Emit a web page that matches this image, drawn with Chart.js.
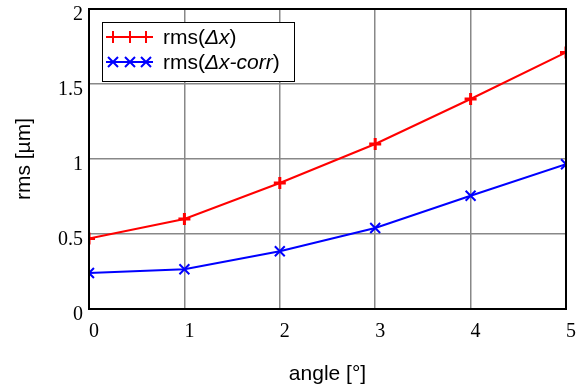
<!DOCTYPE html>
<html>
<head>
<meta charset="utf-8">
<script src="https://cdn.jsdelivr.net/npm/chart.js@4.4.1/dist/chart.umd.min.js"></script>
<style>
  html, body { margin: 0; padding: 0; background: #fff; }
  #wrap { width: 577px; height: 387px; }
</style>
</head>
<body>
<div id="wrap"><canvas id="c"></canvas></div>
<script>
// values
const angles = [0, 1, 2, 3, 4, 5];
const rmsDx = [0.47, 0.60, 0.84, 1.10, 1.40, 1.71];
const rmsDxCorr = [0.24, 0.265, 0.385, 0.54, 0.755, 0.965];
const yTicks = [0, 0.5, 1, 1.5, 2];
// legend text pieces: [text, italic]
const labelDx = [["rms(", false], ["Δx", true], [")", false]];
const labelCorr = [["rms(", false], ["Δx-corr", true], [")", false]];

const RED = "#ff0000";
const BLUE = "#0000ff";
const SERIF = "'Liberation Serif', 'Times New Roman', serif";
const SANS = "'Liberation Sans', Arial, sans-serif";

const pts = (ys) => angles.map((a, i) => ({ x: a, y: ys[i] }));

// frame + legend box, drawn on top
const frameAndLegend = {
  id: "frameAndLegend",
  afterDraw(chart) {
    const { ctx, chartArea: a } = chart;
    ctx.save();
    ctx.strokeStyle = "#000";
    ctx.lineWidth = 2;
    ctx.strokeRect(a.left, a.top, a.right - a.left, a.bottom - a.top);

    // legend
    const bx = 102, by = 22, bw = 192, bh = 59;
    ctx.fillStyle = "#fff";
    ctx.fillRect(bx, by, bw, bh);
    ctx.lineWidth = 1;
    ctx.strokeRect(bx + 0.5, by + 0.5, bw, bh);

    const rows = [
      { y: 37, color: RED, mark: "plus", label: labelDx },
      { y: 62, color: BLUE, mark: "cross", label: labelCorr },
    ];
    rows.forEach((r) => {
      ctx.strokeStyle = r.color;
      ctx.lineWidth = 2;
      ctx.beginPath();
      ctx.moveTo(106, r.y);
      ctx.lineTo(153, r.y);
      ctx.stroke();
      [113, 130, 146].forEach((mx) => {
        ctx.beginPath();
        if (r.mark === "plus") {
          ctx.moveTo(mx - 6, r.y); ctx.lineTo(mx + 6, r.y);
          ctx.moveTo(mx, r.y - 6); ctx.lineTo(mx, r.y + 6);
        } else {
          ctx.moveTo(mx - 5, r.y - 5); ctx.lineTo(mx + 5, r.y + 5);
          ctx.moveTo(mx - 5, r.y + 5); ctx.lineTo(mx + 5, r.y - 5);
        }
        ctx.stroke();
      });
      let x = 163;
      ctx.fillStyle = "#000";
      ctx.textBaseline = "middle";
      r.label.forEach(([t, it]) => {
        ctx.font = (it ? "italic " : "") + "21px " + SANS;
        ctx.fillText(t, x, r.y + 1);
        x += ctx.measureText(t).width;
      });
    });
    ctx.restore();
  },
};

new Chart(document.getElementById("c"), {
  type: "line",
  data: {
    datasets: [
      {
        label: "rms(Δx)", data: pts(rmsDx),
        borderColor: RED, backgroundColor: RED, borderWidth: 2,
        pointStyle: "cross", pointRadius: 6, pointBorderWidth: 3,
        pointBorderColor: RED, clip: 0, tension: 0,
      },
      {
        label: "rms(Δx-corr)", data: pts(rmsDxCorr),
        borderColor: BLUE, backgroundColor: BLUE, borderWidth: 2,
        pointStyle: "crossRot", pointRadius: 7, pointBorderWidth: 2,
        pointBorderColor: BLUE, clip: 0, tension: 0,
      },
    ],
  },
  options: {
    responsive: true, maintainAspectRatio: false, animation: false,
    layout: { padding: { top: 8, right: 11, left: 0, bottom: 0 } },
    plugins: { legend: { display: false }, tooltip: { enabled: false } },
    scales: {
      x: {
        type: "linear", min: 0, max: 5,
        afterBuildTicks: (s) => { s.ticks = angles.map((v) => ({ value: v })); },
        afterFit: (s) => { s.height = 78; s.paddingLeft = 0; s.paddingRight = 0; },
        grid: { color: "#888", lineWidth: 1.5, drawTicks: false },
        border: { display: false },
        ticks: { color: "#000", padding: 11, labelOffset: 5, maxRotation: 0, font: { family: SERIF, size: 20 } },
        title: { display: true, text: "angle [°]", color: "#000", font: { family: SANS, size: 21 }, padding: { top: 8, bottom: 0 } },
      },
      y: {
        min: 0, max: 2,
        afterBuildTicks: (s) => { s.ticks = yTicks.map((v) => ({ value: v })); },
        afterFit: (s) => { s.width = 89; s.paddingTop = 0; s.paddingBottom = 0; },
        grid: { color: "#888", lineWidth: 1.5, drawTicks: false },
        border: { display: false },
        ticks: { color: "#000", padding: 6, labelOffset: 6, callback: (v) => String(v), font: { family: SERIF, size: 20 } },
        title: { display: true, text: "rms [µm]", color: "#000", font: { family: SANS, size: 21 }, padding: { top: 12, bottom: 0 } },
      },
    },
  },
  plugins: [frameAndLegend],
});
</script>
</body>
</html>
